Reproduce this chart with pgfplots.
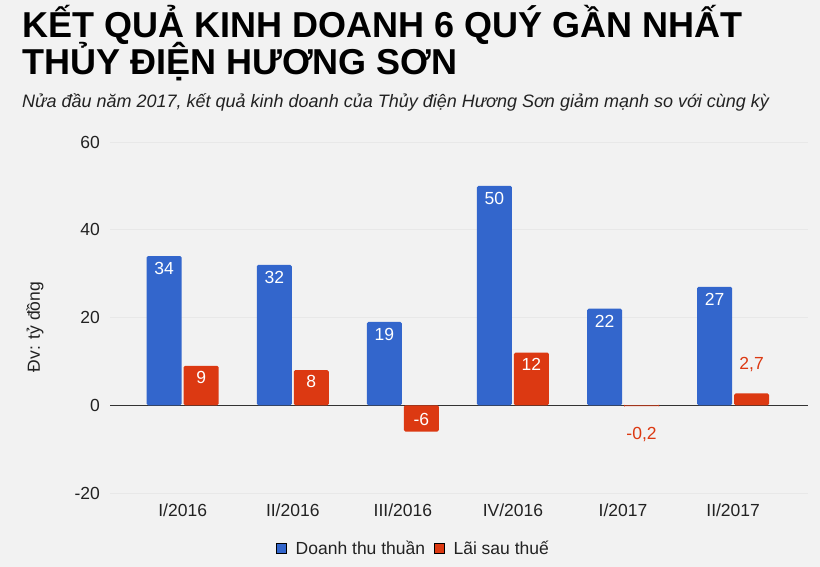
\documentclass[border=0pt]{standalone}
\usepackage{fontspec}
\setmainfont{Liberation Sans}
\usepackage{pgfplots}
\usepackage{pgfplotstable}
\pgfplotsset{compat=1.18}

\definecolor{bgc}{HTML}{F2F2F2}
\definecolor{gridc}{HTML}{E8E8E8}
\definecolor{cblue}{HTML}{3366CC}
\definecolor{cred}{HTML}{DC3912}
\definecolor{txt}{HTML}{222222}

\newcommand{\lbl}{\fontsize{17.5}{20}\selectfont}

\pgfplotstableread{
x dt lai
0 34 9
1 32 8
2 19 -6
3 50 12
4 22 -0.2
5 27 2.7
}\kqkd

\begin{document}
\begin{tikzpicture}
% canvas: 1pt = 1px of the reference
\fill[bgc] (0,0) rectangle (820pt,-567pt);
\path[use as bounding box] (0,0) rectangle (820pt,-567pt);

\node[anchor=base west, inner sep=0pt, font=\fontsize{36}{40}\selectfont\bfseries] at (22pt,-38pt)
  {KẾT QUẢ KINH DOANH 6 QUÝ GẦN NHẤT};
\node[anchor=base west, inner sep=0pt, font=\fontsize{36}{40}\selectfont\bfseries] at (22pt,-75pt)
  {THỦY ĐIỆN HƯƠNG SƠN};
\node[anchor=base west, inner sep=0pt, font=\fontsize{18}{20}\selectfont\itshape, text=txt] at (22pt,-108pt)
  {Nửa đầu năm 2017, kết quả kinh doanh của Thủy điện Hương Sơn giảm mạnh so với cùng kỳ};
\node[rotate=90, inner sep=0pt, font=\lbl, text=txt] at (35pt,-327pt) {Đv: tỷ đồng};

\begin{axis}[
    at={(110pt,-493pt)}, anchor=south west,
    scale only axis, width=698pt, height=351pt,
    xmin=-0.66, xmax=5.68, ymin=-20, ymax=60,
    axis line style={draw=none},
    major tick length=0pt,
    ytick={-20,0,20,40,60},
    yticklabels={-20,0,20,40,60},
    xtick={0,1,2,3,4,5},
    xticklabels={I/2016,II/2016,III/2016,IV/2016,I/2017,II/2017},
    ymajorgrids, grid style={gridc, line width=1pt},
    yticklabel style={anchor=east, inner sep=0pt, xshift=-10pt, font=\lbl, text=txt},
    xticklabel style={anchor=north, inner sep=0pt, yshift=-11pt, font=\lbl, text=txt},
    legend image code/.code={\fill[#1] (0pt,-5pt) rectangle (10pt,5pt);},
    legend style={at={(0.44,-0.157)}, anchor=center, draw=none, fill=none,
      legend columns=2, font=\lbl, text=txt,
      nodes={inner xsep=9pt, inner ysep=2pt},
      /tikz/every even column/.append style={column sep=0pt}},
    clip=false,
]
\draw[black!80, line width=1.2pt] (axis cs:-0.66,0) -- (axis cs:5.68,0);

\addplot[ybar, bar width=35pt, bar shift=-18.5pt, fill=cblue, draw=none, forget plot,
  rounded corners=1.5pt,
  nodes near coords, point meta=y,
  nodes near coords align={anchor=north},
  every node near coord/.append style={xshift=-18.5pt, yshift=-6pt, inner sep=0pt, text=white,
    font=\lbl, rounded corners=0pt, /pgf/number format/assume math mode=true}]
  table[x=x, y=dt] {\kqkd};

\addplot[ybar, bar width=35pt, bar shift=18.5pt, fill=cred, draw=none, forget plot,
  rounded corners=1.5pt]
  table[x=x, y=lai] {\kqkd};

% labels of the profit bars
\addplot[draw=none, mark=none, forget plot, nodes near coords, point meta=explicit symbolic,
  nodes near coords align={anchor=north},
  every node near coord/.append style={xshift=18.5pt, yshift=-5pt, inner sep=0pt, text=white, font=\lbl}]
  table[x=x, y=y, meta=t] {
x y t
0 9 9
1 8 8
3 12 12
};
\addplot[draw=none, mark=none, forget plot, nodes near coords, point meta=explicit symbolic,
  nodes near coords align={anchor=south},
  every node near coord/.append style={xshift=18.5pt, yshift=6pt, inner sep=0pt, text=white, font=\lbl}]
  table[x=x, y=y, meta=t] {
x y t
2 -6 -6
};
\addplot[draw=none, mark=none, forget plot, nodes near coords, point meta=explicit symbolic,
  nodes near coords align={anchor=north},
  every node near coord/.append style={xshift=18.5pt, yshift=-21pt, inner sep=0pt, text=cred, font=\lbl}]
  table[x=x, y=y, meta=t] {
x y t
4 -0.2 -0,2
};
\addplot[draw=none, mark=none, forget plot, nodes near coords, point meta=explicit symbolic,
  nodes near coords align={anchor=south},
  every node near coord/.append style={xshift=18.5pt, yshift=21pt, inner sep=0pt, text=cred, font=\lbl}]
  table[x=x, y=y, meta=t] {
x y t
5 2.7 2,7
};

\addlegendimage{fill=cblue}
\addlegendentry{Doanh thu thuần}
\addlegendimage{fill=cred}
\addlegendentry{Lãi sau thuế}
\end{axis}
\end{tikzpicture}
\end{document}
